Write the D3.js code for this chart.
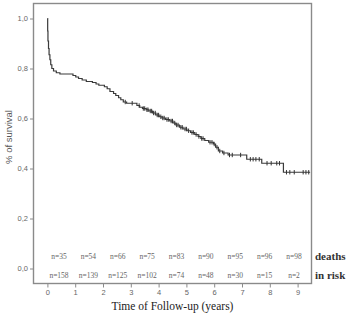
<!DOCTYPE html>
<html>
<head>
<meta charset="utf-8">
<script src="https://cdn.jsdelivr.net/npm/d3@7"></script>
<style>
  body { margin: 0; background: #fff; }
  svg { display: block; }
</style>
</head>
<body>
<svg id="chart" width="347" height="314"></svg>
<script>
// survival steps (time in years, survival after the step)
const stepTimes = [0, 0.01, 0.02, 0.04, 0.06, 0.09, 0.12, 0.16, 0.22, 0.32, 0.45,
  0.92, 1.02, 1.12, 1.25, 1.40, 1.62, 1.75, 1.85, 2.05, 2.15, 2.25, 2.38, 2.46,
  2.56, 2.64, 2.73, 2.85, 3.22, 3.32, 3.42, 3.55, 3.65, 3.78, 3.90, 4.02, 4.12,
  4.25, 4.40, 4.52, 4.62, 4.75, 4.88, 5.02, 5.15, 5.30, 5.42, 5.52, 5.66, 5.80,
  5.97, 6.05, 6.15, 6.30, 6.50, 7.17, 7.71, 8.49];
const stepSurv = [1.0, 0.95, 0.91, 0.88, 0.855, 0.835, 0.815, 0.80, 0.79, 0.783, 0.778,
  0.772, 0.766, 0.760, 0.754, 0.748, 0.744, 0.738, 0.733, 0.727, 0.719, 0.708, 0.700, 0.692,
  0.683, 0.675, 0.666, 0.661, 0.652, 0.645, 0.640, 0.635, 0.630, 0.622, 0.614, 0.607, 0.602,
  0.596, 0.590, 0.582, 0.574, 0.565, 0.558, 0.551, 0.544, 0.536, 0.528, 0.520, 0.512, 0.505,
  0.498, 0.485, 0.470, 0.462, 0.454, 0.437, 0.421, 0.385];
const endTime = 9.45;

// censored observations
const censorTimes = [2.8, 3.05, 3.3, 3.45, 3.5, 3.58, 3.62, 3.7, 3.75, 3.82, 3.88, 3.95,
  4.0, 4.08, 4.15, 4.2, 4.3, 4.35, 4.45, 4.5, 4.58, 4.65, 4.7, 4.8, 4.85, 4.95, 5.0,
  5.08, 5.2, 5.25, 5.35, 5.45, 5.55, 5.6, 5.85, 5.92, 6.0, 6.1, 6.2, 6.35, 6.55, 6.65,
  6.95, 7.3, 7.4, 7.5, 7.62, 7.9, 8.05, 8.25, 8.35, 8.6, 8.72, 8.88, 9.2, 9.3, 9.4];

const xTicks = [0, 1, 2, 3, 4, 5, 6, 7, 8, 9];
const yTicks = [0, 0.2, 0.4, 0.6, 0.8, 1.0];
const deaths = [35, 54, 66, 75, 83, 90, 95, 96, 98];
const atRisk = [158, 139, 125, 102, 74, 48, 30, 15, 2];

const svg = d3.select('#chart');
const frame = { left: 33.5, right: 311.5, top: 3.5, bottom: 283.5 };

const x = d3.scaleLinear().domain([-0.5, 9.5]).range([frame.left, frame.right]);
const y = d3.scaleLinear().domain([-0.06, 1.06]).range([frame.bottom, frame.top]);
const labelX = d3.scalePoint().domain(d3.range(deaths.length)).range([59, 294]);

const axisColor = '#8a8a8a';

// frame
svg.append('rect')
  .attr('x', frame.left).attr('y', frame.top)
  .attr('width', frame.right - frame.left).attr('height', frame.bottom - frame.top)
  .attr('fill', 'none').attr('stroke', axisColor).attr('stroke-width', 1.4);

// y axis
const yAxis = d3.axisLeft(y).tickValues(yTicks).tickSize(3.5).tickPadding(2)
  .tickFormat(d => d3.format('.1f')(d).replace('.', ','));
const gy = svg.append('g').attr('transform', `translate(${frame.left},0)`).call(yAxis);
gy.select('.domain').remove();
gy.selectAll('line').attr('stroke', axisColor);
gy.selectAll('text').attr('fill', '#666').style('font', '7.5px "Liberation Sans", Arial, sans-serif');

// x axis
const xAxis = d3.axisBottom(x).tickValues(xTicks).tickSize(4).tickPadding(2).tickFormat(d3.format('d'));
const gx = svg.append('g').attr('transform', `translate(0,${frame.bottom})`).call(xAxis);
gx.select('.domain').remove();
gx.selectAll('line').attr('stroke', axisColor);
gx.selectAll('text').attr('fill', '#666').style('font', '7.5px "Liberation Sans", Arial, sans-serif');

// axis titles
svg.append('text')
  .attr('transform', `translate(12,${137}) rotate(-90)`)
  .attr('text-anchor', 'middle')
  .attr('fill', '#555')
  .style('font', '9.5px "Liberation Sans", Arial, sans-serif')
  .text('% of survival');

svg.append('text')
  .attr('x', x(4.5)).attr('y', 310)
  .attr('text-anchor', 'middle')
  .attr('fill', '#222')
  .style('font', '11.5px "Liberation Serif", "Times New Roman", serif')
  .text('Time of Follow-up (years)');

// survival curve
const pts = stepTimes.map((t, i) => [t, stepSurv[i]]);
pts.push([endTime, stepSurv[stepSurv.length - 1]]);
const line = d3.line().x(d => x(d[0])).y(d => y(d[1])).curve(d3.curveStepAfter);
svg.append('path')
  .datum(pts)
  .attr('d', line)
  .attr('fill', 'none')
  .attr('stroke', '#3a3a3a')
  .attr('stroke-width', 1.2);

// censor marks
const survAt = t => stepSurv[d3.bisectRight(stepTimes, t) - 1];
svg.append('g').selectAll('line')
  .data(censorTimes)
  .enter().append('line')
  .attr('x1', d => x(d)).attr('x2', d => x(d))
  .attr('y1', d => y(survAt(d)) - 2.2).attr('y2', d => y(survAt(d)) + 2.2)
  .attr('stroke', '#333').attr('stroke-width', 1);

// n= labels
const labelFont = '7.5px "Liberation Serif", "Times New Roman", serif';
svg.append('g').selectAll('text')
  .data(deaths)
  .enter().append('text')
  .attr('x', (d, i) => labelX(i)).attr('y', 259)
  .attr('text-anchor', 'middle').attr('fill', '#666')
  .style('font', labelFont)
  .text(d => `n=${d}`);

svg.append('g').selectAll('text')
  .data(atRisk)
  .enter().append('text')
  .attr('x', (d, i) => labelX(i)).attr('y', 278)
  .attr('text-anchor', 'middle').attr('fill', '#666')
  .style('font', labelFont)
  .text(d => `n=${d}`);

// row labels
const rowFont = 'bold 11px "Liberation Serif", "Times New Roman", serif';
svg.append('text').attr('x', 315).attr('y', 260).attr('fill', '#333')
  .style('font', rowFont).text('deaths');
svg.append('text').attr('x', 315).attr('y', 279).attr('fill', '#333')
  .style('font', rowFont).text('in risk');
</script>
</body>
</html>
